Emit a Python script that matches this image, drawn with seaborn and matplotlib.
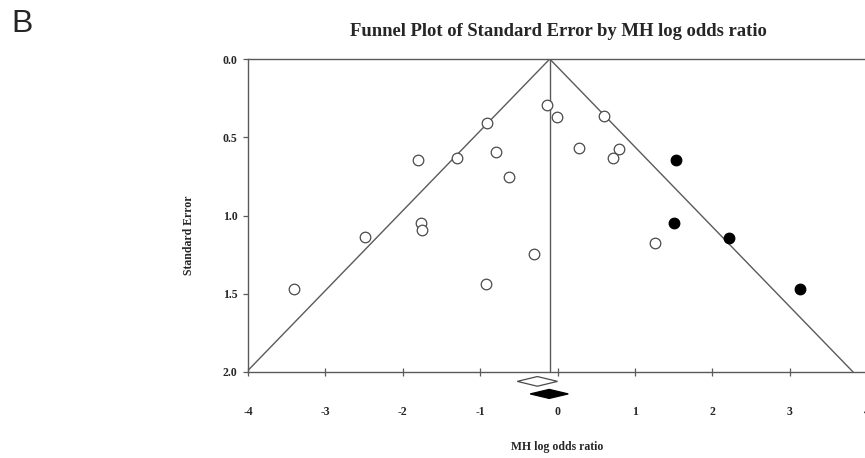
import matplotlib
matplotlib.use("Agg")
import matplotlib.pyplot as plt
import seaborn as sns
import numpy as np

# ---- data ----
observed_logor = [-0.137, -0.008, -0.913, -1.806, -1.294, -0.797, -0.629, 0.604,
                  0.272, 0.798, 0.717, -1.767, -1.746, -2.488, -3.406, -0.926,
                  -0.301, 1.255]
observed_se = [0.294, 0.370, 0.407, 0.645, 0.632, 0.596, 0.751, 0.364,
               0.566, 0.575, 0.632, 1.045, 1.094, 1.139, 1.467, 1.435,
               1.243, 1.175]
imputed_logor = [1.532, 1.501, 2.212, 3.131]
imputed_se = [0.645, 1.045, 1.141, 1.467]

funnel_center = -0.10
observed_est, observed_lo, observed_hi = -0.26, -0.52, 0.00
adjusted_est, adjusted_lo, adjusted_hi = -0.107, -0.353, 0.139

x_ticks = [-4, -3, -2, -1, 0, 1, 2, 3, 4]
y_ticks = [0.0, 0.5, 1.0, 1.5, 2.0]

sns.set_theme(style="white")
plt.rcParams['font.family'] = ['Liberation Serif', 'DejaVu Serif']

fig = plt.figure(figsize=(8.65, 4.58), dpi=100)
ax = fig.add_axes([248 / 865, 86 / 458, (867 - 248) / 865, (372 - 59) / 458])

line_col = "#5a5a5a"
se_max = 2.0
ax.plot([funnel_center - 1.96 * se_max, funnel_center, funnel_center + 1.96 * se_max],
        [se_max, 0, se_max], color=line_col, lw=1.0, zorder=1)
ax.plot([funnel_center, funnel_center], [0, se_max], color=line_col, lw=1.0, zorder=1)

sns.scatterplot(x=observed_logor, y=observed_se, ax=ax, marker="o", s=58,
                facecolor="white", edgecolor="#4a4a4a", linewidth=0.9, zorder=3)
sns.scatterplot(x=imputed_logor, y=imputed_se, ax=ax, marker="o", s=58,
                color="black", edgecolor="black", linewidth=0.9, zorder=3)

ax.set_xlim(-4, 4)
ax.set_ylim(2.0, 0.0)

# summary diamonds below the axis
def diamond(est, lo, hi, ypos, h, **kw):
    ax.fill([lo, est, hi, est], [ypos, ypos - h, ypos, ypos + h], clip_on=False, **kw)

diamond(observed_est, observed_lo, observed_hi, 2.06, 0.031,
        facecolor="white", edgecolor="#4a4a4a", linewidth=0.9)
diamond(adjusted_est, adjusted_lo, adjusted_hi, 2.14, 0.029,
        facecolor="black", edgecolor="black", linewidth=0.9)

for side in ["top", "left", "bottom", "right"]:
    ax.spines[side].set_color(line_col)
    ax.spines[side].set_linewidth(1.0)

ax.set_xticks(x_ticks)
ax.set_xticklabels([str(t) for t in x_ticks], fontweight="bold", fontsize=8.5)
ax.set_yticks(y_ticks)
ax.set_yticklabels([f"{t:.1f}" for t in y_ticks], fontweight="bold", fontsize=8.5)
ax.tick_params(axis="x", direction="inout", length=6, width=0.9, color=line_col,
               pad=21.5, bottom=True)
ax.tick_params(axis="y", direction="out", length=3.5, width=0.9, color=line_col,
               pad=4, left=True)

ax.set_xlabel("MH log odds ratio", fontweight="bold", fontsize=8.5)
ax.xaxis.set_label_coords((557 - 248) / 619, -(447 - 372) / 313)
ax.set_ylabel("Standard Error", fontweight="bold", fontsize=8.5)
ax.yaxis.set_label_coords(-(248 - 189) / 619, (372 - 235) / 313)
ax.xaxis.label.set_va("center")
ax.yaxis.label.set_va("center")

fig.text(558 / 865, 1 - 31 / 458, "Funnel Plot of Standard Error by MH log odds ratio",
         ha="center", va="center", fontweight="bold", fontsize=13.4)
fig.text(11 / 865, 1 - 32 / 458, "B", ha="left", va="baseline", fontsize=23,
         family=["Liberation Sans", "DejaVu Sans"])

fig.savefig("out.png", dpi=100)
